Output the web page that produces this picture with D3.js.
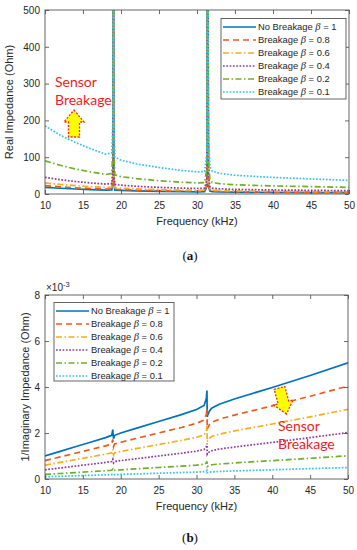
<!DOCTYPE html>
<html>
<head>
<meta charset="utf-8">
<script src="https://cdn.jsdelivr.net/npm/d3@7"></script>
<style>
body { margin: 0; background: #fff; }
svg { display: block; font-family: "Liberation Sans", Arial, sans-serif; }
</style>
</head>
<body>
<svg class="main" width="357" height="550"></svg>
<script>
// frequency samples (kHz), dense around the two resonances
var freq = [10, 12, 14, 16, 18, 18.8, 18.95, 19.0, 19.05, 19.2, 20, 22, 25, 28, 30, 31, 31.3, 31.38, 31.42, 31.5, 31.7, 32, 33, 35, 40, 45, 50];

// real impedance (Ohm)
var realB1   = [18, 15.6, 13.6, 12, 10.8, 11, 40, 900, 30, 10.4, 9.6, 8.4, 7.2, 6.4, 6, 6.4, 20, 900, 900, 22, 8, 6.4, 5.6, 5, 4.4, 4, 3.6];
var realB08  = [22.5, 19.5, 17, 15, 13.5, 14, 50, 900, 35, 13, 12, 10.5, 9, 8, 7.5, 8, 25, 900, 900, 28, 10, 8, 7, 6.3, 5.5, 5, 4.5];
var realB06  = [30, 26, 23, 20, 18, 19, 60, 900, 45, 17, 16, 14, 12, 10.7, 10, 10.5, 30, 900, 900, 35, 13, 10.5, 9.3, 8.3, 7.3, 6.7, 6];
var realB04  = [45, 39, 34, 30, 27, 28, 80, 900, 60, 26, 24, 21, 18, 16, 15, 16, 40, 900, 900, 50, 20, 16, 14, 12.5, 11, 10, 9];
var realB02  = [90, 78, 68, 60, 53, 56, 150, 900, 120, 52, 47, 42, 36, 32, 30, 31, 70, 900, 900, 90, 40, 31, 28, 25, 22, 20, 18];
var realB01  = [185, 160, 140, 123, 108, 112, 220, 900, 200, 100, 92, 82, 72, 64, 60, 61, 110, 900, 900, 150, 75, 62, 56, 51, 45, 41, 37];

// 1/imaginary impedance (x 10^-3)
var imagB1   = [1.0, 1.2, 1.4, 1.6, 1.8, 1.9, 2.15, 1.9, 1.75, 1.9, 2.0, 2.2, 2.5, 2.8, 3.02, 3.2, 3.5, 3.85, 2.7, 2.8, 2.95, 3.08, 3.25, 3.48, 3.98, 4.5, 5.05];
var imagB08  = [0.8, 0.96, 1.12, 1.28, 1.44, 1.52, 1.72, 1.52, 1.4, 1.52, 1.6, 1.76, 2.0, 2.24, 2.42, 2.56, 2.8, 3.08, 2.16, 2.24, 2.36, 2.46, 2.6, 2.78, 3.18, 3.6, 4.04];
var imagB06  = [0.6, 0.72, 0.84, 0.96, 1.08, 1.14, 1.29, 1.14, 1.05, 1.14, 1.2, 1.32, 1.5, 1.68, 1.81, 1.92, 2.1, 2.31, 1.62, 1.68, 1.77, 1.85, 1.95, 2.09, 2.39, 2.7, 3.03];
var imagB04  = [0.4, 0.48, 0.56, 0.64, 0.72, 0.76, 0.86, 0.76, 0.7, 0.76, 0.8, 0.88, 1.0, 1.12, 1.21, 1.28, 1.4, 1.54, 1.08, 1.12, 1.18, 1.23, 1.3, 1.39, 1.59, 1.8, 2.02];
var imagB02  = [0.2, 0.24, 0.28, 0.32, 0.36, 0.38, 0.43, 0.38, 0.35, 0.38, 0.4, 0.44, 0.5, 0.56, 0.6, 0.64, 0.7, 0.77, 0.54, 0.56, 0.59, 0.62, 0.65, 0.7, 0.8, 0.9, 1.01];
var imagB01  = [0.1, 0.12, 0.14, 0.16, 0.18, 0.19, 0.21, 0.19, 0.17, 0.19, 0.2, 0.22, 0.25, 0.28, 0.3, 0.32, 0.35, 0.38, 0.27, 0.28, 0.3, 0.31, 0.33, 0.35, 0.4, 0.45, 0.5];

var seriesNames = ["No Breakage", "Breakage", "Breakage", "Breakage", "Breakage", "Breakage"];
var betaLabels = ["1", "0.8", "0.6", "0.4", "0.2", "0.1"];
var xTicks = [10, 15, 20, 25, 30, 35, 40, 45, 50];
var realTicks = [0, 100, 200, 300, 400, 500];
var imagTicks = [0, 2, 4, 6, 8];

var styles = [
    { color: "#0072BD", dash: null },
    { color: "#EE5A1E", dash: "6,4" },
    { color: "#F2B01E", dash: "6,2.5,1.5,2.5" },
    { color: "#8E3A9E", dash: "1.7,1.6" },
    { color: "#6DB02E", dash: "6,2.5,1.5,2.5" },
    { color: "#35C2F0", dash: "1.7,1.6" }
];

var svg = d3.select(".main");

function drawPanel(cfg) {
    var g = svg.append("g");
    var x = d3.scaleLinear().domain([10, 50]).range([cfg.left, cfg.right]);
    var y = d3.scaleLinear().domain(cfg.yDomain).range([cfg.bottom, cfg.top]);

    g.append("clipPath").attr("id", cfg.id + "-clip")
        .append("rect")
        .attr("x", cfg.left).attr("y", cfg.top)
        .attr("width", cfg.right - cfg.left).attr("height", cfg.bottom - cfg.top);

    var line = d3.line()
        .x(function(d, i) { return x(freq[i]); })
        .y(function(d) { return y(d); });

    g.append("g").attr("clip-path", "url(#" + cfg.id + "-clip)")
        .selectAll("path")
        .data(cfg.values)
        .enter()
        .append("path")
        .attr("d", line)
        .attr("fill", "none")
        .attr("stroke", function(d, i) { return styles[i].color; })
        .attr("stroke-width", 1.7)
        .attr("stroke-dasharray", function(d, i) { return styles[i].dash; });

    // axes, ticks pointing inward on all four sides
    g.append("g")
        .attr("transform", "translate(0," + cfg.bottom + ")")
        .call(d3.axisBottom(x).tickValues(xTicks).tickSize(-4).tickSizeOuter(0).tickPadding(8));
    g.append("g")
        .attr("transform", "translate(" + cfg.left + ",0)")
        .call(d3.axisLeft(y).tickValues(cfg.yTicks).tickSize(-4).tickSizeOuter(0).tickPadding(5));
    g.append("g")
        .attr("transform", "translate(0," + cfg.top + ")")
        .call(d3.axisTop(x).tickValues(xTicks).tickSize(-4).tickSizeOuter(0).tickFormat(""));
    g.append("g")
        .attr("transform", "translate(" + cfg.right + ",0)")
        .call(d3.axisRight(y).tickValues(cfg.yTicks).tickSize(-4).tickSizeOuter(0).tickFormat(""));

    g.selectAll(".domain").remove();
    g.selectAll(".tick line").attr("stroke", "#444").attr("stroke-width", 0.8);
    g.selectAll(".tick text").attr("font-size", 10).attr("fill", "#262626")
        .attr("font-family", "Liberation Sans, Arial, sans-serif");

    g.append("rect")
        .attr("x", cfg.left).attr("y", cfg.top)
        .attr("width", cfg.right - cfg.left).attr("height", cfg.bottom - cfg.top)
        .attr("fill", "none").attr("stroke", "#555").attr("stroke-width", 0.9);

    // axis titles
    g.append("text")
        .attr("x", (cfg.left + cfg.right) / 2)
        .attr("y", cfg.bottom + 31)
        .attr("text-anchor", "middle")
        .attr("font-size", 11).attr("fill", "#262626")
        .text("Frequency (kHz)");

    g.append("text")
        .attr("transform", "translate(" + cfg.yLabelX + "," + ((cfg.top + cfg.bottom) / 2) + ") rotate(-90)")
        .attr("text-anchor", "middle")
        .attr("font-size", 11).attr("fill", "#262626")
        .text(cfg.yLabel);

    // legend
    var lg = cfg.legend;
    g.append("rect")
        .attr("x", lg.x).attr("y", lg.y)
        .attr("width", lg.w).attr("height", lg.h)
        .attr("fill", "#fff").attr("stroke", "#555").attr("stroke-width", 0.9);

    var rows = g.selectAll(".legend-row")
        .data(seriesNames)
        .enter()
        .append("g")
        .attr("transform", function(d, i) { return "translate(" + (lg.x + 2) + "," + (lg.y + 8.5 + i * 13) + ")"; });

    rows.append("line")
        .attr("x1", 0).attr("x2", 33)
        .attr("stroke", function(d, i) { return styles[i].color; })
        .attr("stroke-width", 1.7)
        .attr("stroke-dasharray", function(d, i) { return styles[i].dash; });

    var label = rows.append("text")
        .attr("x", 35).attr("y", 3.4)
        .attr("font-size", 9.4).attr("fill", "#262626");
    label.append("tspan").text(function(d) { return d + " "; });
    label.append("tspan").attr("font-style", "italic").attr("font-family", "Liberation Serif, serif")
        .attr("font-size", 10.5).text("\u03b2");
    label.append("tspan").text(function(d, i) { return " = " + betaLabels[i]; });

    // caption
    var cap = svg.append("text")
        .attr("x", 190).attr("y", cfg.captionY)
        .attr("text-anchor", "middle")
        .attr("font-family", "Liberation Serif, serif")
        .attr("font-size", 13).attr("fill", "#111");
    cap.append("tspan").text("(");
    cap.append("tspan").attr("font-weight", "bold").text(cfg.caption);
    cap.append("tspan").text(")");

    return g;
}

// yellow block arrow with dashed red outline, pointing up in local coordinates
function blockArrow(parent, cx, cy, angle) {
    var hw = 10, bw = 5.5, half = 13.5, neck = -1.5;
    var pts = [[0, -half], [hw, neck], [bw, neck], [bw, half], [-bw, half], [-bw, neck], [-hw, neck]];
    parent.append("path")
        .attr("d", "M" + pts.map(function(p) { return p.join(","); }).join("L") + "Z")
        .attr("transform", "translate(" + cx + "," + cy + ") rotate(" + angle + ")")
        .attr("fill", "#FFFF00")
        .attr("stroke", "#F0282A")
        .attr("stroke-width", 1.3)
        .attr("stroke-dasharray", "2,1.5");
}

function sensorText(parent, x, y) {
    var t = parent.append("text")
        .attr("font-family", "Lato, 'Open Sans', sans-serif")
        .attr("font-size", 14).attr("fill", "#EE1C24");
    t.append("tspan").attr("x", x).attr("y", y).text("Sensor");
    t.append("tspan").attr("x", x).attr("y", y + 18).text("Breakage");
}

var topPanel = drawPanel({
    id: "real",
    left: 45, right: 349, top: 10, bottom: 194,
    yDomain: [0, 500], yTicks: realTicks,
    values: [realB1, realB08, realB06, realB04, realB02, realB01],
    yLabel: "Real Impedance (Ohm)", yLabelX: 13,
    legend: { x: 221, y: 18.5, w: 125, h: 80.5 },
    caption: "a", captionY: 260
});
sensorText(topPanel, 55, 87);
blockArrow(topPanel, 74, 123.5, 0);

var botPanel = drawPanel({
    id: "imag",
    left: 45, right: 348, top: 295, bottom: 479,
    yDomain: [0, 8], yTicks: imagTicks,
    values: [imagB1, imagB08, imagB06, imagB04, imagB02, imagB01],
    yLabel: "1/Imaginary Impedance (Ohm)", yLabelX: 29,
    legend: { x: 54, y: 302.5, w: 120, h: 78.5 },
    caption: "b", captionY: 542
});

var expo = botPanel.append("text")
    .attr("x", 46).attr("y", 291)
    .attr("font-size", 10).attr("fill", "#262626");
expo.append("tspan").text("\u00d710");
expo.append("tspan").attr("dy", -4).attr("font-size", 7.5).text("-3");

blockArrow(botPanel, 283, 401, 165);
sensorText(botPanel, 278, 431);
</script>
</body>
</html>
